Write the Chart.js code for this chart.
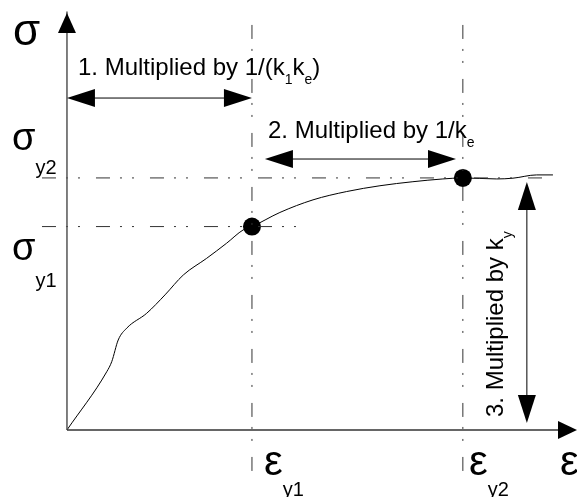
<!DOCTYPE html>
<html>
<head>
<meta charset="utf-8">
<script src="https://cdn.jsdelivr.net/npm/chart.js@4.4.1/dist/chart.umd.min.js"></script>
<style>
  html, body { margin: 0; padding: 0; background: #fff; }
  canvas { display: block; }
</style>
</head>
<body>
<canvas id="stressStrain" width="577" height="497"></canvas>
<script>
// Stress-strain curve (strain normalised to eps_y1 = 1, stress to sigma_y2 = 1)
const curveStrain = [0, 0.215, 0.242, 0.277, 0.323, 0.431, 0.530, 0.629, 0.755, 0.863, 0.953, 1.0,
  1.151, 1.330, 1.512, 1.692, 1.870, 2.032, 2.14, 2.323, 2.411, 2.539, 2.627];
const curveStress = [0, 0.231, 0.271, 0.357, 0.404, 0.463, 0.536, 0.615, 0.681, 0.741, 0.794, 0.807,
  0.863, 0.913, 0.946, 0.969, 0.985, 0.996, 1.0, 0.996, 0.999, 1.012, 1.012];

// Yield points
const yieldStrain = [1.0, 2.14];
const yieldStress = [0.807, 1.0];

// Axis window
const strainRange = [-0.362, 2.757];
const stressRange = [-0.266, 1.706];

const curveData = curveStrain.map((x, i) => ({ x: x, y: curveStress[i] }));
const yieldData = yieldStrain.map((x, i) => ({ x: x, y: yieldStress[i] }));

// dash-dot-dot reference lines through the yield points
const dashPattern = [14, 10, 2, 10, 2, 16];
function refLine(points) {
  return {
    data: points,
    showLine: true,
    borderColor: '#333',
    borderWidth: 1,
    borderDash: dashPattern,
    pointRadius: 0,
    fill: false
  };
}

const FONT = '"Liberation Sans", Arial, sans-serif';

// arrows and labels drawn on top, positioned through the scales
const annotationPlugin = {
  id: 'annotations',
  afterDatasetsDraw(chart) {
    const ctx = chart.ctx;
    const xs = chart.scales.x, ys = chart.scales.y;
    const px = v => xs.getPixelForValue(v);
    const py = v => ys.getPixelForValue(v);

    function head(tx, ty, dx, dy, len, half) {
      // triangle with tip at (tx,ty), pointing in direction (dx,dy)
      const bx = tx - dx * len, by = ty - dy * len;
      ctx.beginPath();
      ctx.moveTo(tx, ty);
      ctx.lineTo(bx - dy * half, by + dx * half);
      ctx.lineTo(bx + dy * half, by - dx * half);
      ctx.closePath();
      ctx.fill();
    }
    function line(x1, y1, x2, y2, color, w) {
      ctx.strokeStyle = color;
      ctx.lineWidth = w;
      ctx.beginPath();
      ctx.moveTo(x1, y1);
      ctx.lineTo(x2, y2);
      ctx.stroke();
    }

    ctx.save();
    ctx.fillStyle = '#000';

    // axes
    const ox = px(0), oy = py(0);
    line(ox, oy, ox, py(1.66), '#555', 1.5);
    head(ox, py(1.654), 0, -1, 20, 9);
    line(ox, oy, px(2.66), oy, '#333', 1.5);
    head(px(2.757), oy, 1, 0, 19, 9);

    // arrow 1: 0 -> eps_y1
    let y1 = py(1.317);
    line(ox + 20, y1, px(yieldStrain[0]) - 20, y1, '#000', 1);
    head(ox, y1, -1, 0, 28, 9);
    head(px(yieldStrain[0]), y1, 1, 0, 28, 9);

    // arrow 2: eps_y1 -> eps_y2
    let y2 = py(1.075);
    line(px(1.07) + 20, y2, px(2.103) - 20, y2, '#000', 1);
    head(px(1.07), y2, -1, 0, 28, 9);
    head(px(2.103), y2, 1, 0, 28, 9);

    // arrow 3: vertical
    let x3 = px(2.486);
    line(x3, py(0.028) - 20, x3, py(0.984) + 20, '#000', 1);
    head(x3, py(0.984), 0, -1, 28, 9);
    head(x3, py(0.028), 0, 1, 28, 9);

    // text runs: [text, size, baselineShift]
    function runs(x, y, parts) {
      ctx.textBaseline = 'alphabetic';
      ctx.textAlign = 'left';
      parts.forEach(p => {
        ctx.font = p[1] + 'px ' + FONT;
        ctx.fillText(p[0], x, y + (p[2] || 0));
        x += ctx.measureText(p[0]).width;
      });
    }

    runs(13, 45, [['σ', 44]]);
    runs(12, 150, [['σ', 38], ['y2', 20, 24]]);
    runs(12, 260, [['σ', 38], ['y1', 20, 27]]);
    runs(264, 475, [['ε', 42], ['y1', 20, 21]]);
    runs(469, 475, [['ε', 42], ['y2', 20, 21]]);
    runs(560, 475, [['ε', 42]]);

    runs(78, 75, [['1. Multiplied by 1/(k', 24], ['1', 14, 9], ['k', 24], ['e', 14, 9], [')', 24]]);
    runs(268, 138, [['2. Multiplied by 1/k', 24], ['e', 14, 9]]);

    ctx.translate(503, 417);
    ctx.rotate(-Math.PI / 2);
    runs(0, 0, [['3. Multiplied by k', 24], ['y', 14, 9]]);

    ctx.restore();
  }
};

new Chart(document.getElementById('stressStrain'), {
  type: 'scatter',
  data: {
    datasets: [
      refLine([{ x: -0.135, y: yieldStress[1] }, { x: 2.61, y: yieldStress[1] }]),
      refLine([{ x: -0.135, y: yieldStress[0] }, { x: 1.249, y: yieldStress[0] }]),
      refLine([{ x: yieldStrain[0], y: 1.607 }, { x: yieldStrain[0], y: -0.198 }]),
      refLine([{ x: yieldStrain[1], y: 1.607 }, { x: yieldStrain[1], y: -0.198 }]),
      {
        data: curveData,
        showLine: true,
        borderColor: '#000',
        borderWidth: 1,
        cubicInterpolationMode: 'monotone',
        pointRadius: 0,
        fill: false
      },
      {
        data: yieldData,
        showLine: false,
        pointRadius: 9,
        pointBackgroundColor: '#000',
        pointBorderColor: '#000',
        pointBorderWidth: 0
      }
    ]
  },
  options: {
    responsive: false,
    animation: false,
    layout: { padding: 0, autoPadding: false },
    plugins: { legend: { display: false }, tooltip: { enabled: false } },
    scales: {
      x: { type: 'linear', display: false, min: strainRange[0], max: strainRange[1] },
      y: { type: 'linear', display: false, min: stressRange[0], max: stressRange[1] }
    }
  },
  plugins: [annotationPlugin]
});
</script>
</body>
</html>
